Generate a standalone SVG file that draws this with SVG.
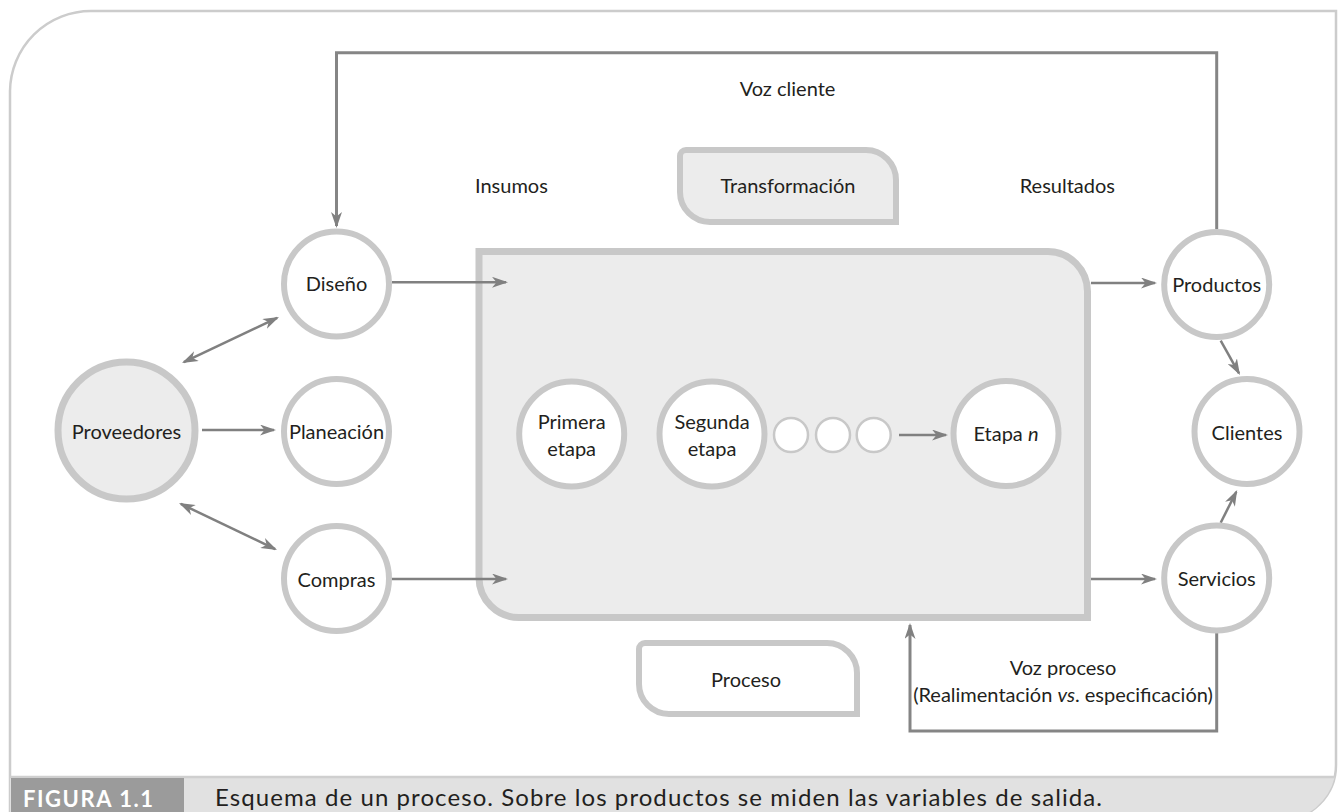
<svg xmlns="http://www.w3.org/2000/svg" width="1338" height="812" viewBox="0 0 1338 812">
<style>
text{font-family:Lato,"Open Sans","DejaVu Sans",sans-serif;fill:#231f20;font-size:20px}
.c{text-anchor:middle}
.node{fill:#fff;stroke:#c8c8c8;stroke-width:6}
.small{fill:#fff;stroke:#c8c8c8;stroke-width:2.5}
.conn{fill:none;stroke:#808080;stroke-width:2.5}
.fb{fill:none;stroke:#858585;stroke-width:3}
.cap{font-size:24px}
</style>
<defs>
<marker id="ah" markerUnits="userSpaceOnUse" markerWidth="16" markerHeight="11" refX="14" refY="5.5" orient="auto-start-reverse">
<path d="M0,0 L16,5.5 L0,11 L4.5,5.5 Z" fill="#808080"/>
</marker>
</defs>
<g id="frame">
<path d="M10,812 V91 A81,81 0 0 1 91,11 H1336 V765 A55,55 0 0 1 1281,820" fill="#fff" stroke="#cccccc" stroke-width="2.5"/>
<path d="M10,777 H1334.7 A55,55 0 0 1 1281,820 H10 Z" fill="#e1e1e1"/>
<line x1="10" y1="777" x2="1334.7" y2="777" stroke="#cfcfcf" stroke-width="2.5"/>
<rect x="11" y="778" width="173" height="36" fill="#9b9b9b"/>
<text x="23" y="807" textLength="130" lengthAdjust="spacing" style="font-weight:bold;fill:#fff;font-size:22px">FIGURA 1.1</text>
<text x="215" y="806" class="cap" textLength="887" lengthAdjust="spacing">Esquema de un proceso. Sobre los productos se miden las variables de salida.</text>
</g>
<g id="process-box">
<path d="M479,251.5 H1048 A40,40 0 0 1 1087.5,291.5 V617.5 H519 A40,40 0 0 1 479,577.5 Z" fill="#ececec" stroke="#c8c8c8" stroke-width="7"/>
</g>
<g id="transformacion">
<path d="M686,150 H866 A30,30 0 0 1 896,180 V222 H710 A30,30 0 0 1 680,192 V156 A6,6 0 0 1 686,150 Z" fill="#ececec" stroke="#c8c8c8" stroke-width="6"/>
<text x="788" y="193" class="c">Transformación</text>
</g>
<g id="proceso">
<path d="M645,643 H827 A30,30 0 0 1 857,673 V714 H669 A30,30 0 0 1 639,684 V649 A6,6 0 0 1 645,643 Z" fill="#fff" stroke="#c8c8c8" stroke-width="6"/>
<text x="746" y="687" class="c">Proceso</text>
</g>
<g id="labels">
<text x="475" y="193">Insumos</text>
<text x="1115" y="193" style="text-anchor:end">Resultados</text>
<text x="787.5" y="95.5" class="c">Voz cliente</text>
<text x="1063" y="675" class="c">Voz proceso</text>
<text x="1063" y="702" class="c">(Realimentación <tspan font-style="italic">vs</tspan>. especificación)</text>
</g>
<g id="connectors">
<line class="conn" x1="392" y1="282.3" x2="506" y2="282.3" marker-end="url(#ah)"/>
<line class="conn" x1="392" y1="579" x2="506" y2="579" marker-end="url(#ah)"/>
<line class="conn" x1="1091" y1="283" x2="1155" y2="283" marker-end="url(#ah)"/>
<line class="conn" x1="1091" y1="579" x2="1155" y2="579" marker-end="url(#ah)"/>
<line class="conn" x1="183.8" y1="362.1" x2="277.2" y2="317.9" marker-start="url(#ah)" marker-end="url(#ah)"/>
<line class="conn" x1="202" y1="430" x2="274" y2="430" marker-end="url(#ah)"/>
<line class="conn" x1="180.8" y1="503.9" x2="275.2" y2="549.1" marker-start="url(#ah)" marker-end="url(#ah)"/>
<line class="conn" x1="1220.7" y1="340.7" x2="1239" y2="373.3" marker-end="url(#ah)"/>
<line class="conn" x1="1220.7" y1="522.7" x2="1236.3" y2="491.8" marker-end="url(#ah)"/>
<line class="conn" x1="899" y1="435" x2="946" y2="435" marker-end="url(#ah)"/>
<path class="fb" d="M1216.7,229 V52.7 H336.5 V226" marker-end="url(#ah)"/>
<path class="fb" d="M1216.7,633 V731 H910 V625" marker-end="url(#ah)"/>
</g>
<g id="proveedores">
<circle cx="126.5" cy="430.5" r="68.5" fill="#ececec" stroke="#c8c8c8" stroke-width="7"/>
<text x="126.5" y="439" class="c">Proveedores</text>
</g>
<g id="diseno">
<circle class="node" cx="336.5" cy="284" r="52.5"/>
<text x="336.5" y="291" class="c">Diseño</text>
</g>
<g id="planeacion">
<circle class="node" cx="336.5" cy="431.5" r="52.5"/>
<text x="336.5" y="439" class="c">Planeación</text>
</g>
<g id="compras">
<circle class="node" cx="336.5" cy="578.5" r="52.5"/>
<text x="336.5" y="587" class="c">Compras</text>
</g>
<g id="primera">
<circle class="node" cx="571.7" cy="434" r="52.5"/>
<text x="571.7" y="429" class="c">Primera</text>
<text x="571.7" y="456" class="c">etapa</text>
</g>
<g id="segunda">
<circle class="node" cx="712" cy="434" r="52.5"/>
<text x="712" y="429" class="c">Segunda</text>
<text x="712" y="456" class="c">etapa</text>
</g>
<g id="intermedias">
<circle class="small" cx="791" cy="435" r="17"/>
<circle class="small" cx="833" cy="435" r="17"/>
<circle class="small" cx="873.7" cy="435" r="17"/>
</g>
<g id="etapa-n">
<circle class="node" cx="1006" cy="433.5" r="52.5"/>
<text x="1006" y="441" class="c">Etapa <tspan font-style="italic">n</tspan></text>
</g>
<g id="productos">
<circle class="node" cx="1216.7" cy="284.5" r="52.5"/>
<text x="1216.7" y="292" class="c">Productos</text>
</g>
<g id="clientes">
<circle class="node" cx="1247" cy="431.5" r="52.5"/>
<text x="1247" y="439.5" class="c">Clientes</text>
</g>
<g id="servicios">
<circle class="node" cx="1216.7" cy="578" r="52.5"/>
<text x="1216.7" y="586" class="c">Servicios</text>
</g>
</svg>
